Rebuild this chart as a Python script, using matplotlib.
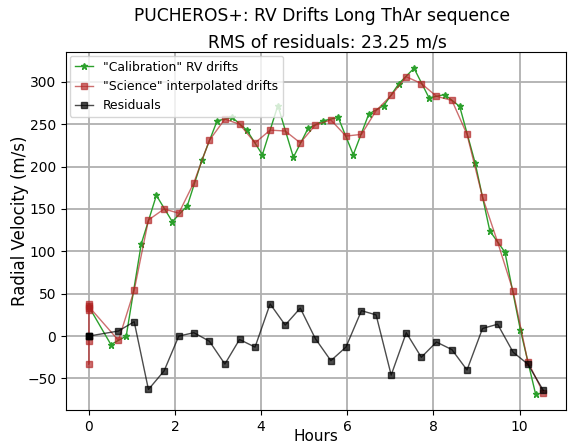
import numpy as np
import matplotlib.pyplot as plt

# "Calibration" RV drifts (hours, m/s)
t_cal = [0.0, 0.515, 0.87, 1.22, 1.57, 1.94, 2.29, 2.63, 2.98, 3.33, 3.67,
         4.03, 4.39, 4.75, 5.09, 5.44, 5.79, 6.14, 6.50, 6.85, 7.20, 7.55,
         7.90, 8.26, 8.61, 8.97, 9.31, 9.66, 10.02, 10.37]
rv_cal = [35, -10, 0, 109, 166, 135, 154, 208, 254, 258, 243,
          214, 272, 211, 245, 254, 258, 214, 262, 272, 298, 316,
          281, 285, 271, 204, 124, 99, 7, -68]

# "Science" interpolated drifts
t_sci = [0.0, 0.0, 0.0, 0.0, 0.0, 0.0, 0.69, 1.055, 1.386, 1.75, 2.09, 2.44,
         2.80, 3.16, 3.50, 3.86, 4.21, 4.56, 4.91, 5.26, 5.62, 5.97, 6.33,
         6.67, 7.02, 7.37, 7.72, 8.07, 8.43, 8.78, 9.14, 9.49, 9.85,
         10.19, 10.55]
rv_sci = [38, 33, -33, -6, 31, 35, -5, 54, 137, 150, 145, 181,
          231, 256, 250, 228, 243, 242, 228, 249, 255, 236, 238,
          266, 284, 306, 298, 283, 278, 238, 164, 111, 53,
          -30, -67]

# Residuals
t_res = [0.0, 0.0, 0.0, 0.69, 1.055, 1.386, 1.75, 2.09, 2.44, 2.80, 3.16,
         3.50, 3.86, 4.21, 4.56, 4.91, 5.26, 5.62, 5.97, 6.33, 6.67, 7.02,
         7.37, 7.72, 8.07, 8.43, 8.78, 9.14, 9.49, 9.85, 10.19, 10.55]
rv_res = [0, 0, 0, 6, 17, -63, -41, 0, 4, -6, -33,
          -4, -13, 38, 13, 33, -3, -29, -13, 30, 25, -46,
          4, -25, -7, -16, -40, 9, 14, -19, -33, -64]

rms = 23.25

fig = plt.figure(figsize=(5.7, 4.47), dpi=100)
ax = fig.add_axes([66 / 570, 1 - 410 / 447, 500 / 570, 358 / 447])

ax.plot(t_cal, rv_cal, marker='*', markersize=4.5, color='tab:green', lw=1,
        label='"Calibration" RV drifts')
ax.plot(t_sci, rv_sci, marker='s', markersize=4.5, color='firebrick', lw=1,
        alpha=0.65, label='"Science" interpolated drifts')
ax.plot(t_res, rv_res, marker='s', markersize=4, color='black', lw=1,
        alpha=0.7, label='Residuals')

ax.grid(True, color='#b0b0b0', lw=1.3)
ax.set_axisbelow(True)
ax.set_xticks([0, 2, 4, 6, 8, 10])
ax.set_xlabel('Hours', fontsize=11)
ax.xaxis.set_label_coords(0.5, -0.054)
ax.set_ylabel('Radial Velocity (m/s)', fontsize=12)
ax.yaxis.set_label_coords(-0.073, 0.528)
ax.set_title(f'RMS of residuals: {rms:.2f} m/s', fontsize=12.3, x=0.522,
             pad=3)
fig.suptitle('PUCHEROS+: RV Drifts Long ThAr sequence', fontsize=12.3,
             x=322 / 570, y=0.985)
ax.legend(loc='upper left', fontsize=8.9, handlelength=1.5,
          borderaxespad=0.3)

fig.savefig('out.png', dpi=100)
